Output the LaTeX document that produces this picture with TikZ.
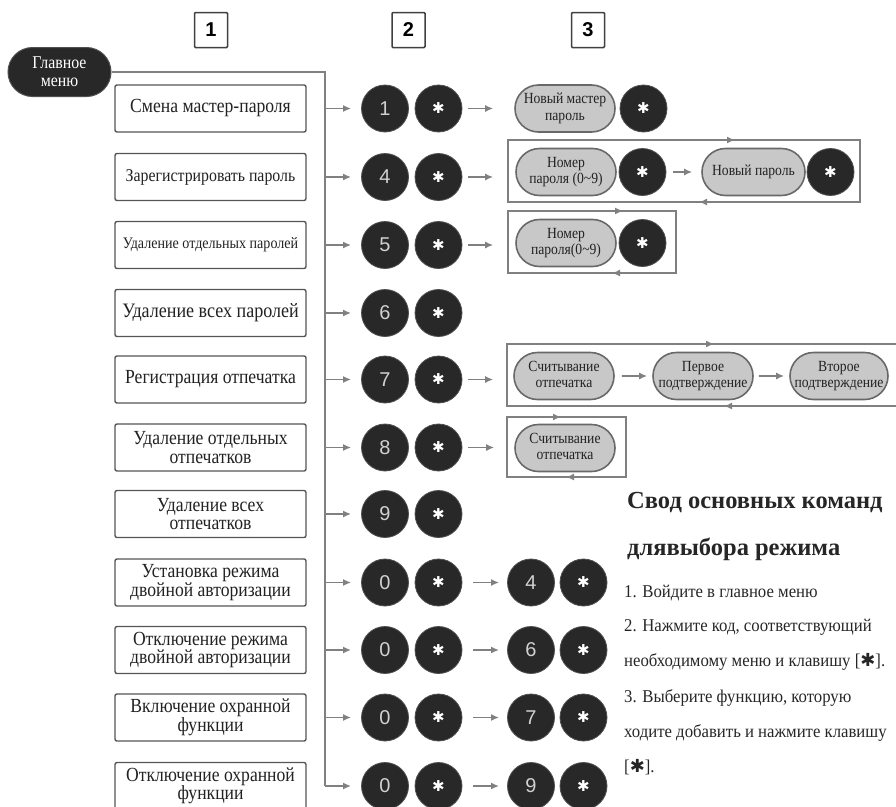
\documentclass[tikz,border=0pt]{standalone}
\usepackage{fontspec}
\setmainfont{Liberation Serif}
\newfontfamily\condserif[FakeStretch=0.88]{Liberation Serif}
\newfontfamily\bodyserif[FakeStretch=0.93]{Liberation Serif}
\newfontfamily\arialf{Liberation Sans}
\newfontfamily\djv{DejaVu Sans}
\usetikzlibrary{shapes.misc,arrows.meta}
\definecolor{keyfill}{HTML}{282828}
\definecolor{keyedge}{HTML}{505050}
\definecolor{linegray}{HTML}{808080}
\definecolor{pillfill}{HTML}{C8C8C8}
\definecolor{pilledge}{HTML}{686868}
\definecolor{boxedge}{HTML}{555555}
\definecolor{txt}{HTML}{222222}
\newcommand{\pilltxt}[1]{\makebox[0pt]{\begin{tabular}{@{}c@{}}#1\end{tabular}}}
\newcommand{\kstar}{{\djv ✱}}
\tikzset{
  menubox/.style={draw=boxedge, line width=1.4pt, rounded corners=2pt, fill=white,
    minimum width=191pt, minimum height=47pt, inner sep=1pt, align=center, text=txt,
    font=\condserif\fontsize{20}{18.5}\selectfont},
  key/.style={circle, fill=keyfill, draw=keyedge, line width=0.8pt, minimum size=47pt,
    inner sep=0pt, text=black!18, font=\arialf\fontsize{20}{20}\selectfont},
  starkey/.style={key, text=white, font=\djv\fontsize{15}{15}\selectfont},
  pill/.style={rounded rectangle, fill=pillfill, draw=pilledge, line width=1.6pt,
    minimum height=47pt, minimum width=100pt, inner sep=0pt, text=txt,
    font=\condserif\fontsize{15.5}{16.5}\selectfont},
  arr/.style={draw=linegray, line width=1.6pt, -{Latex[length=8pt,width=7pt]}},
  ln/.style={draw=linegray, line width=1.6pt},
  loopbox/.style={draw=linegray, line width=1.6pt},
  hdr/.style={draw=black!75, line width=1.5pt, rounded corners=1pt, minimum width=33pt,
    minimum height=35pt, inner sep=0pt, font=\arialf\bfseries\fontsize{20}{20}\selectfont},
  title/.style={anchor=base west, inner sep=0pt, text=black!85,
    font=\bfseries\fontsize{24.5}{24}\selectfont},
  body/.style={anchor=base west, inner sep=0pt, text=black!85,
    font=\bodyserif\fontsize{18}{18}\selectfont}
}
\begin{document}
\begin{tikzpicture}[x=1pt,y=-1pt]
\useasboundingbox (0,0) rectangle (896,806);
% headers
\node[hdr] (h1) at (211,30) {1};
\node[hdr] (h2) at (408.5,30) {2};
\node[hdr] (h3) at (588,30) {3};
% main menu pill
\node[rounded rectangle, fill=keyfill, draw=keyedge, line width=1pt, minimum width=103pt,
  minimum height=49pt, inner sep=0pt, text=white, align=center,
  font=\condserif\fontsize{18}{18}\selectfont] (gm) at (59.5,72) {Главное\\меню};
% menu boxes
\node[menubox] (m1) at (210.5,108.5) {Смена мастер-пароля};
\node[menubox, font=\condserif\fontsize{18}{17}\selectfont] (m2) at (210.5,177) {Зарегистрировать пароль};
\node[menubox, font=\condserif\fontsize{16}{17}\selectfont] (m3) at (210.5,245) {Удаление отдельных паролей};
\node[menubox, font=\condserif\fontsize{20.5}{18.5}\selectfont] (m4) at (210.5,313) {Удаление всех паролей};
\node[menubox] (m5) at (210.5,379.5) {Регистрация отпечатка};
\node[menubox] (m6) at (210.5,447.5) {Удаление отдельных\\отпечатков};
\node[menubox] (m7) at (210.5,514) {Удаление всех\\отпечатков};
\node[menubox] (m8) at (210.5,582.5) {Установка режима\\двойной авторизации};
\node[menubox] (m9) at (210.5,650) {Отключение режима\\двойной авторизации};
\node[menubox] (m10) at (210.5,717.5) {Включение охранной\\функции};
\node[menubox] (m11) at (210.5,786) {Отключение охранной\\функции};
% trunk coordinates
\coordinate (t1) at (325,108.5);
\coordinate (t2) at (325,177);
\coordinate (t3) at (325,245);
\coordinate (t4) at (325,313);
\coordinate (t5) at (325,379.5);
\coordinate (t6) at (325,447.5);
\coordinate (t7) at (325,514);
\coordinate (t8) at (325,582.5);
\coordinate (t9) at (325,650);
\coordinate (t10) at (325,717.5);
\coordinate (t11) at (325,786);
\draw[ln] (gm.east) -- (gm.east -| t1) -- (t11);
% key circles column 2
\node[key] (k1a) at (385,108.5) {1};   \node[starkey] (k1b) at (438.5,108.5) {✱};
\node[key] (k2a) at (385,177) {4};     \node[starkey] (k2b) at (438.5,177) {✱};
\node[key] (k3a) at (385,245) {5};     \node[starkey] (k3b) at (438.5,245) {✱};
\node[key] (k4a) at (385,313) {6};     \node[starkey] (k4b) at (438.5,313) {✱};
\node[key] (k5a) at (385,379.5) {7};   \node[starkey] (k5b) at (438.5,379.5) {✱};
\node[key] (k6a) at (385,447.5) {8};   \node[starkey] (k6b) at (438.5,447.5) {✱};
\node[key] (k7a) at (385,514) {9};     \node[starkey] (k7b) at (438.5,514) {✱};
\node[key] (k8a) at (385,582.5) {0};   \node[starkey] (k8b) at (438.5,582.5) {✱};
\node[key] (k9a) at (385,650) {0};     \node[starkey] (k9b) at (438.5,650) {✱};
\node[key] (k10a) at (385,717.5) {0};  \node[starkey] (k10b) at (438.5,717.5) {✱};
\node[key] (k11a) at (385,786) {0};    \node[starkey] (k11b) at (438.5,786) {✱};
% branches
\foreach \i in {1,...,11} \draw[arr, shorten >=10pt] (t\i) -- (k\i a);
% column 3
\node[pill] (p1) at (565,108.5) {\pilltxt{Новый мастер\\пароль}};
\node[starkey] (s1) at (643.5,108.5) {✱};
\draw[arr, shorten <=6pt, shorten >=21pt] (k1b) -- (p1);
% row 2 loop
\node[pill] (p2a) at (566,172) {\pilltxt{Номер\\пароля (0\textasciitilde9)}};
\node[starkey] (s2a) at (642.5,172) {✱};
\node[pill, minimum width=103pt] (p2b) at (753.5,172) {\pilltxt{Новый пароль}};
\node[starkey] (s2b) at (830.5,172) {✱};
\draw[loopbox] (508,140) rectangle (860,202);
\draw[arr] (722,140) -- (735,140);
\draw[arr] (712,202) -- (699,202);
\draw[arr, shorten <=6pt, shorten >=22pt] (k2b.east) -- (k2b.east -| p2a.west);
\draw[arr, shorten <=7pt, shorten >=9pt] (s2a) -- (p2b);
% row 3 loop
\node[pill] (p3) at (566,243) {\pilltxt{Номер\\пароля(0\textasciitilde9)}};
\node[starkey] (s3) at (642.5,243) {✱};
\draw[loopbox] (508,211) rectangle (676,273);
\draw[arr] (610,211) -- (623,211);
\draw[arr] (625,273) -- (612,273);
\draw[arr, shorten <=6pt, shorten >=22pt] (k3b.east) -- (k3b.east -| p3.west);
% row 5 loop
\node[pill] (p5a) at (564,376) {\pilltxt{Считывание\\отпечатка}};
\node[pill] (p5b) at (703,376) {\pilltxt{Первое\\подтверждение}};
\node[pill, minimum width=98pt] (p5c) at (839,376) {\pilltxt{Второе\\подтверждение}};
\draw[loopbox] (897,344) -- (507,344) -- (507,406) -- (897,406);
\draw[arr] (701,344) -- (714,344);
\draw[arr] (737,406) -- (724,406);
\draw[arr, shorten <=6pt, shorten >=20pt] (k5b.east) -- (k5b.east -| p5a.west);
\draw[arr, shorten <=7pt, shorten >=5pt] (p5a) -- (p5b);
\draw[arr, shorten <=5pt, shorten >=5pt] (p5b) -- (p5c);
% row 6 loop
\node[pill] (p6) at (565,448) {\pilltxt{Считывание\\отпечатка}};
\draw[loopbox] (507,417) rectangle (626,477);
\draw[arr] (548,417) -- (561,417);
\draw[arr] (579,477) -- (566,477);
\draw[arr, shorten <=6pt, shorten >=20pt] (k6b.east) -- (k6b.east -| p6.west);
% rows 8-11 third column
\node[key] (k8c) at (531,582.5) {4};   \node[starkey] (k8d) at (583.5,582.5) {✱};
\node[key] (k9c) at (531,650) {6};     \node[starkey] (k9d) at (583.5,650) {✱};
\node[key] (k10c) at (531,717.5) {7};  \node[starkey] (k10d) at (583.5,717.5) {✱};
\node[key] (k11c) at (531,786) {9};    \node[starkey] (k11d) at (583.5,786) {✱};
\foreach \i in {8,...,11} \draw[arr, shorten <=11pt, shorten >=8pt] (k\i b) -- (k\i c);
% text block
\node[title] (ti1) at (627,508) {Свод основных команд};
\node[title] (ti2) at (627,555) {длявыбора режима};
\node[body] (b1) at (624,597) {1. Войдите в главное меню};
\node[body] (b2) at (624,631) {2. Нажмите код, соответствующий};
\node[body] (b3) at (624,666) {необходимому меню и клавишу [\kstar].};
\node[body] (b4) at (624,702) {3. Выберите функцию, которую};
\node[body] (b5) at (624,737) {ходите добавить и нажмите клавишу};
\node[body] (b6) at (624,772) {[\kstar].};
\end{tikzpicture}
\end{document}
